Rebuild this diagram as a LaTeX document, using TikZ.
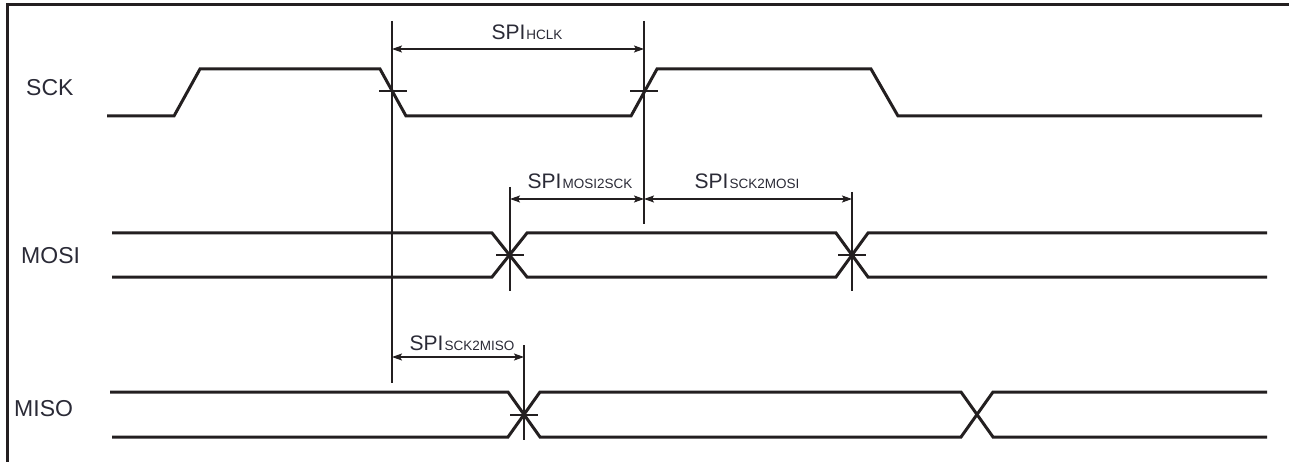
\documentclass[tikz,border=0pt]{standalone}
\usepackage{fontspec}
\setmainfont{Liberation Sans}
\usepackage{xcolor}
\usetikzlibrary{arrows.meta}
\definecolor{wire}{HTML}{231F20}
\definecolor{ink}{HTML}{2A2A36}
\newcommand\subtxt[1]{\kern1pt{\fontsize{13.5}{15}\selectfont #1}}

\begin{document}
\begin{tikzpicture}[x=1pt,y=-1pt,
  sig/.style={draw=wire, line width=3pt, line join=miter},
  guide/.style={draw=wire, line width=1.2pt},
  dimline/.style={guide, {Stealth[length=10pt,width=7pt,inset=2pt]}-{Stealth[length=10pt,width=7pt,inset=2pt]}},
  siglbl/.style={text=ink, font=\fontsize{23}{25}\selectfont, inner sep=0pt, anchor=base west},
  dimlbl/.style={text=ink, font=\fontsize{21}{23}\selectfont, inner sep=0pt, anchor=base}]
\useasboundingbox (0,0) rectangle (1289,462);
% frame
\draw[draw=wire, line width=3pt] (7,462) -- (7,5) -- (1289,5);
% signal names
\node[siglbl] (sck) at (26,96) {SCK};
\node[siglbl] (mosi) at (21,263) {MOSI};
\node[siglbl] (miso) at (14,416) {MISO};
% waveforms
\draw[sig] (107,116) -- (174,116) -- (200,69) -- (380,69) -- (406,116) -- (631,116) -- (657,69) -- (871,69) -- (898,116) -- (1262,116);
\draw[sig] (112,233) -- (492,233) -- (527,277) -- (836,277) -- (868,233) -- (1267,233);
\draw[sig] (112,277) -- (492,277) -- (527,233) -- (836,233) -- (868,277) -- (1267,277);
\draw[sig] (110,392) -- (508,392) -- (540,437) -- (961,437) -- (993,392) -- (1267,392);
\draw[sig] (112,437) -- (508,437) -- (540,392) -- (961,392) -- (993,437) -- (1267,437);
% reference lines
\coordinate (fallT) at (392,21);  \coordinate (fallB) at (392,383);
\coordinate (riseT) at (644,21);  \coordinate (riseB) at (644,224);
\coordinate (mo1T) at (510,187);  \coordinate (mo1B) at (510,291);
\coordinate (mo2T) at (852,192);  \coordinate (mo2B) at (852,291);
\coordinate (mi1T) at (524,345);  \coordinate (mi1B) at (524,440);
\foreach \a in {fall,rise,mo1,mo2,mi1}
  \draw[guide] (\a T) -- (\a B);
% crossing ticks
\foreach \x/\y in {393/91, 644/91, 510/255, 852/255, 524/415}
  \draw[guide] (\x-14,\y) -- (\x+14,\y);
% timing arrows
\draw[dimline] (fallT |- 0,49) -- (riseT |- 0,49);
\draw[dimline] (mo1T |- 0,199) -- (riseT |- 0,199);
\draw[dimline] (riseT |- 0,199) -- (mo2T |- 0,199);
\draw[dimline] (fallT |- 0,357) -- (mi1T |- 0,357);
\node[dimlbl] (hclk) at (527,40) {SPI\subtxt{HCLK}};
\node[dimlbl] (mosi2sck) at (580,189) {SPI\subtxt{MOSI2SCK}};
\node[dimlbl] (sck2mosi) at (747,189) {SPI\subtxt{SCK2MOSI}};
\node[dimlbl] (sck2miso) at (462,350) {SPI\subtxt{SCK2MISO}};
\end{tikzpicture}
\end{document}
